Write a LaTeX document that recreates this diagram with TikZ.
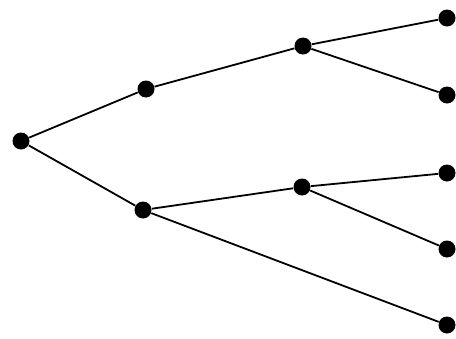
\documentclass[tikz,border=0pt]{standalone}
\usepackage{tikz}
\usetikzlibrary{positioning}

\begin{document}
\begin{tikzpicture}[
		x=0.5pt, y=-0.5pt,
		every node/.style={
			circle,
			fill=black,
			inner sep=0pt,
			minimum size=8.5pt
		},
		edge/.style={line width=0.9pt}
		]
		
		\useasboundingbox (0,0) rectangle (456,338);
		
		\node (root) at (21,141) {};
		
		\node (up) at (146,89) {};
		
		\node (down) at (143,210) {};
		
		\node (upmid) at (303,46) {};
		
		\node (downmid) at (302,187) {};
		
		\node (leafa) at (447,18) {};
		
		\node (leafb) at (447,95) {};
		
		\node (leafc) at (447,173) {};
		
		\node (leafd) at (447,249) {};
		
		\node (leafe) at (447,325) {};
		
		\draw[edge] (root)--(up);
		\draw[edge] (root)--(down);
		\draw[edge] (up)--(upmid);
		\draw[edge] (upmid)--(leafa);
		\draw[edge] (upmid)--(leafb);
		\draw[edge] (down)--(downmid);
		\draw[edge] (downmid)--(leafc);
		\draw[edge] (downmid)--(leafd);
		\draw[edge] (down)--(leafe);
		
	\end{tikzpicture}
\end{document}
